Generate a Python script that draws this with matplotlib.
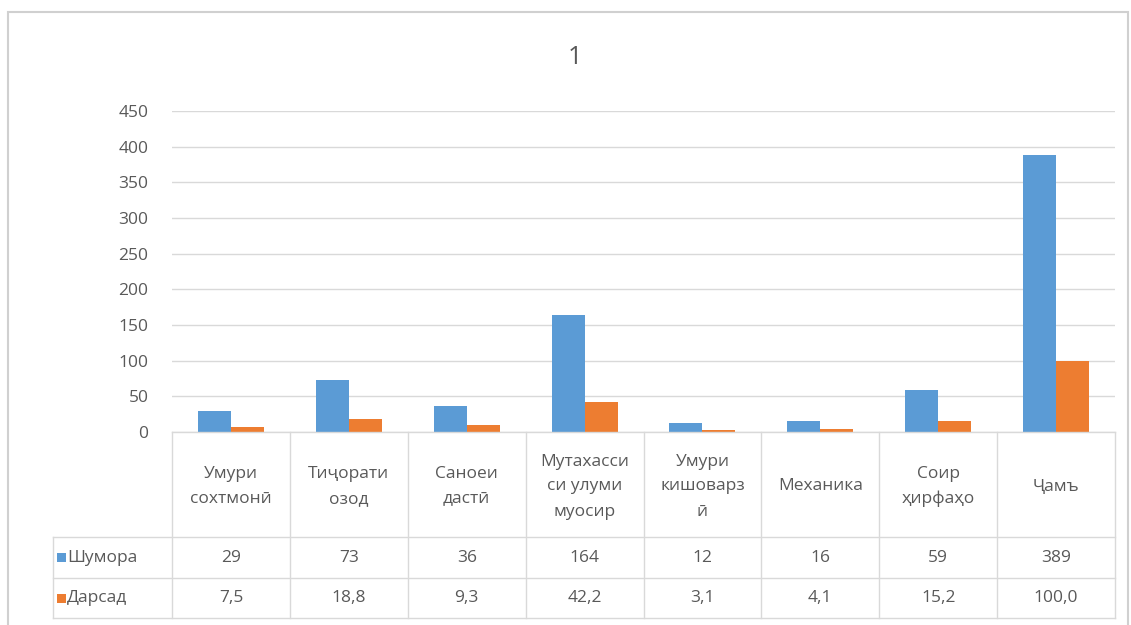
import matplotlib
matplotlib.use("Agg")
import matplotlib.pyplot as plt
from matplotlib.patches import Rectangle
from matplotlib.lines import Line2D
import numpy as np

categories = ["Умури\nсохтмонӣ", "Тиҷорати\nозод", "Саноеи\nдастӣ", "Мутахасси\nси улуми\nмуосир",
              "Умури\nкишоварз\nӣ", "Механика", "Соир\nҳирфаҳо", "Ҷамъ"]
series_names = ["Шумора", "Дарсад"]
shumora = [29, 73, 36, 164, 12, 16, 59, 389]
darsad = [7.5, 18.8, 9.3, 42.2, 3.1, 4.1, 15.2, 100.0]
darsad_labels = ["7,5", "18,8", "9,3", "42,2", "3,1", "4,1", "15,2", "100,0"]
yticks = [0, 50, 100, 150, 200, 250, 300, 350, 400, 450]

plt.rcParams['font.family'] = ['Open Sans', 'DejaVu Sans']
W, H = 1131, 625
fig = plt.figure(figsize=(W / 100, H / 100), dpi=100)
fig.patch.set_facecolor("white")

def fx(px):
    return px / W

def fy(py):
    return 1 - py / H

blue = "#5B9BD5"
orange = "#ED7D31"
txt = "#595959"
grid = "#D9D9D9"
fs = 12.5

x0, x1 = 172, 1115
ytop, ybot = 111, 432
ax = fig.add_axes([fx(x0), fy(ybot), fx(x1 - x0), fy(ytop) - fy(ybot)])
n = len(categories)
x = np.arange(n)
bw = 0.28
ax.bar(x - bw / 2, shumora, bw, color=blue, zorder=3)
ax.bar(x + bw / 2, darsad, bw, color=orange, zorder=3)
ax.set_xlim(-0.5, n - 0.5)
ax.set_ylim(0, 450)
ax.set_yticks(yticks)
ax.set_yticklabels([str(t) for t in yticks], fontsize=fs, color=txt)
ax.tick_params(axis='y', length=0, pad=17)
ax.set_xticks([])
ax.yaxis.grid(True, color=grid, linewidth=1, zorder=0)
for s in ax.spines.values():
    s.set_visible(False)

# Figure border
fig.add_artist(Rectangle((fx(8), fy(640)), fx(1128 - 8), fy(12) - fy(640), transform=fig.transFigure,
                         fill=False, edgecolor="#D0D0D0", linewidth=1.5))

fig.text(0.508, fy(57), "1", ha="center", va="center", fontsize=18, color=txt)

# Data table
lc = "#D9D9D9"
row_y = [432, 537, 578, 618]
cw = (x1 - x0) / n
def hline(y, xa, xb):
    fig.add_artist(Line2D([fx(xa), fx(xb)], [fy(y), fy(y)], transform=fig.transFigure, color=lc, linewidth=1))
def vline(xp, ya, yb):
    fig.add_artist(Line2D([fx(xp), fx(xp)], [fy(ya), fy(yb)], transform=fig.transFigure, color=lc, linewidth=1))

hline(row_y[0], x0, x1)
for y in row_y[1:]:
    hline(y, 53, x1)
for i in range(n + 1):
    vline(x0 + i * cw, row_y[0], row_y[3])
vline(53, row_y[1], row_y[3])

for i, c in enumerate(categories):
    cx = x0 + (i + 0.5) * cw
    fig.text(fx(cx), fy((row_y[0] + row_y[1]) / 2 + 2), c, ha="center", va="center",
             fontsize=fs, color=txt, linespacing=1.75)
    fig.text(fx(cx), fy((row_y[1] + row_y[2]) / 2), str(shumora[i]), ha="center", va="center",
             fontsize=fs, color=txt)
    fig.text(fx(cx), fy((row_y[2] + row_y[3]) / 2), darsad_labels[i], ha="center", va="center",
             fontsize=fs, color=txt)

for j, (name, col) in enumerate(zip(series_names, [blue, orange])):
    yc = (row_y[1 + j] + row_y[2 + j]) / 2
    fig.add_artist(Rectangle((fx(57), fy(yc + 4.5)), fx(9), fy(yc - 4.5) - fy(yc + 4.5), transform=fig.transFigure,
                             facecolor=col, edgecolor="none"))
    fig.text(fx(67), fy(yc), name, ha="left", va="center", fontsize=fs, color=txt)

fig.savefig("out.png", dpi=100, facecolor="white")
